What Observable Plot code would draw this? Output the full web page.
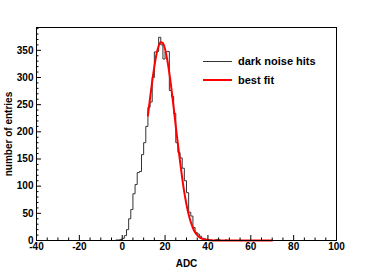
<!DOCTYPE html>
<html><head><meta charset="utf-8">
<script src="https://cdn.jsdelivr.net/npm/d3@7"></script>
<script src="https://cdn.jsdelivr.net/npm/@observablehq/plot@0.6"></script>
<style>
body{margin:0;background:#fff;}
#wrap{position:relative;width:374px;height:268px;}
.leg{position:absolute;left:203px;height:14px;font:bold 11px "Liberation Sans",Arial,sans-serif;color:#000;display:flex;align-items:center;white-space:nowrap;}
.leg .sw{display:inline-block;width:29px;margin-right:6px;}
</style></head><body><div id="wrap"></div>
<script>
// histogram: bin left edges (ADC) and counts (bin width 1)
const binStart = -5;
const counts = [0,0,1,1,2,4,9,20,40,57,86,103,125,127,158,180,210,245,255,300,347,348,374,360,334,347,348,276,265,234,180,162,152,133,110,88,52,45,24,15,12,8,4,3,2,1,1,0,1,2,1,0,0,1,0];
// fitted curve
const fitX = [12,13,14,15,16,17,18,19,20,21,22,23,24,25,26,27,28,29,30,31,32,33,34,35,36,37,38,40,45,50,70];
const fitY = [230,262,293,320,343,358,365,363,352,333,308,278,245,210,177,145,115,88,66,48,34,23,15,10,6,4,2,1,0,0,0];
const xMajor = [-40,-20,0,20,40,60,80,100];
const xMinor = [-35,-30,-25,-15,-10,-5,5,10,15,25,30,35,45,50,55,65,70,75,85,90,95];
const yMajor = [0,50,100,150,200,250,300,350];
const yMinor = [10,20,30,40,60,70,80,90,110,120,130,140,160,170,180,190,210,220,230,240,260,270,280,290,310,320,330,340,360,370,380,390];
const legendItems = [{label:"dark noise hits", color:"#333", w:1},{label:"best fit", color:"#ff0000", w:2}];

const hist = [{x:-40,y:0}];
counts.forEach((c,i)=>hist.push({x:binStart+i,y:c}));
hist.push({x:binStart+counts.length,y:0},{x:100,y:0});
const fit = fitX.map((x,i)=>({x, y:fitY[i]}));

const chart = Plot.plot({
  width: 374, height: 268,
  marginLeft: 36, marginRight: 38, marginTop: 27, marginBottom: 28,
  style: {fontFamily: "'Liberation Sans', Arial, sans-serif", fontWeight: "bold", fontSize: "11px", color: "#000", background: "#fff"},
  x: {domain: [-40, 100]},
  y: {domain: [0, 392]},
  marks: [
    Plot.line(hist, {x:"x", y:"y", curve:"step-after", stroke:"#333", strokeWidth:1}),
    Plot.line(fit, {x:"x", y:"y", curve:"monotone-x", stroke:"#ff0000", strokeWidth:2}),
    Plot.axisX(xMinor, {tickSize:-2.5, tickFormat:()=>"", label:null}),
    Plot.axisX(xMajor, {tickSize:-5, tickPadding:7, fontSize:10, fontWeight:"bold", tickFormat:d=>String(d), label:"ADC", labelAnchor:"center", labelOffset:26, labelArrow:"none"}),
    Plot.axisY(yMinor, {tickSize:-2.5, tickFormat:()=>"", label:null}),
    Plot.axisY(yMajor, {tickSize:-5, tickPadding:8, fontSize:10, fontWeight:"bold", tickFormat:d=>String(d), label:"number of entries", labelAnchor:"center", labelOffset:32, labelArrow:"none"}),
    Plot.frame({stroke:"#000", strokeWidth:1})
  ]
});
const wrap = document.getElementById("wrap");
wrap.appendChild(chart);
const tops = [54, 73];
legendItems.forEach((it,i)=>{
  const d = document.createElement("div");
  d.className = "leg";
  d.style.top = tops[i] + "px";
  d.innerHTML = `<span class="sw" style="border-top:${it.w}px solid ${it.color}"></span>${it.label}`;
  wrap.appendChild(d);
});
</script></body></html>
